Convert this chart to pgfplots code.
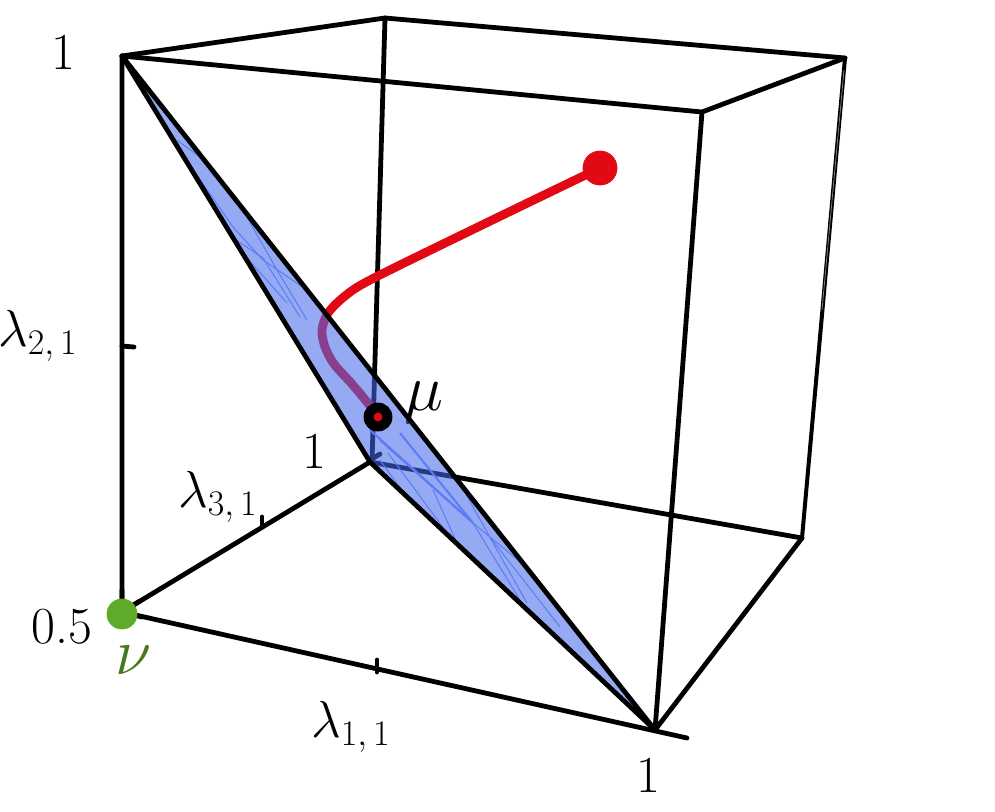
\RequirePackage{fix-cm}
\documentclass[border=0pt]{standalone}
\usepackage{pgfplots}
\pgfplotsset{compat=1.18}
\definecolor{facet}{RGB}{70,105,235}
\definecolor{gridline}{RGB}{90,125,245}
\definecolor{curve}{RGB}{225,10,20}
\definecolor{nugreen}{RGB}{95,170,40}
\definecolor{nutext}{RGB}{70,120,30}
\DeclareMathSizes{26}{26}{18}{13}
\DeclareMathSizes{33}{33}{22}{16}
\newcommand{\lab}{\fontsize{26}{28}\selectfont}
\newcommand{\biglab}{\fontsize{33}{36}\selectfont}
\begin{document}
\begin{tikzpicture}[x=1pt,y=1pt]
\useasboundingbox (0,0) rectangle (497.5pt,405.5pt);
% axis in reference pixels, 1 px = 0.5 pt
\begin{axis}[hide axis,scale only axis,width=497.5pt,height=405.5pt,
  xmin=0,xmax=995,ymin=0,ymax=811,y dir=reverse,clip=false,
  cube/.style={black,line width=2.4pt,line join=round,line cap=round,mark=none,forget plot},
  thin mesh/.style={gridline,line width=0.5pt,mark=none,forget plot},
  fan mesh/.style={gridline,line width=1pt,mark=none,forget plot}]
% back edges
\addplot[cube] coordinates {(122,56) (385,18) (845,58)};
\addplot[cube] coordinates {(385,18) (372,462)};
\addplot[cube] coordinates {(122,612) (370,462) (802,538)};
\addplot[cube] coordinates {(370,460) (380,454)};
% curve, point and mu behind the facet
\addplot[curve,line width=4.4pt,line cap=round,smooth,mark=none] coordinates {(600,168) (480,226) (372,279) (345,296) (328,313) (322,330) (325,347) (334,364) (352,384) (372,408)};
\addplot[only marks,mark=*,mark size=7pt,mark options={draw=black,fill=black}] coordinates {(378,417)};
\node[font=\biglab] at (axis cs:424,403) {$\mu$};
% facet
\addplot[fill=facet,fill opacity=0.57,draw=none,mark=none] coordinates {(122,56) (655,730) (370,462)} --cycle;
% mesh lines inside the facet
\addplot[thin mesh] coordinates {(177,140) (200,157)};
\addplot[thin mesh] coordinates {(190,165) (233,227) (263,260) (307,290)};
\addplot[thin mesh] coordinates {(243,210) (277,270) (307,320)};
\addplot[thin mesh] coordinates {(233,238) (263,258) (300,317)};
\addplot[thin mesh] coordinates {(247,258) (287,303)};
\addplot[fan mesh] coordinates {(370,430) (473,523)};
\addplot[fan mesh] coordinates {(400,433) (473,523)};
\addplot[fan mesh] coordinates {(380,440) (470,520)};
\addplot[thin mesh] coordinates {(473,523) (520,600)};
\addplot[thin mesh] coordinates {(473,523) (530,570)};
\addplot[thin mesh] coordinates {(388,453) (450,537)};
\addplot[thin mesh] coordinates {(433,490) (457,543)};
\addplot[thin mesh] coordinates {(457,478) (497,550) (527,603)};
\addplot[thin mesh] coordinates {(490,537) (560,627)};
\addplot[thin mesh] coordinates {(380,460) (403,492) (460,547)};
% facet outline and front edges
\addplot[cube] coordinates {(122,56) (655,730)};
\addplot[cube] coordinates {(122,56) (370,462) (655,730)};
\addplot[cube] coordinates {(122,56) (122,612) (687,738)};
\addplot[cube] coordinates {(122,56) (702,112) (845,58)};
\addplot[cube] coordinates {(702,112) (655,730) (802,538)};
\addplot[black,line width=2pt,mark=none,forget plot] coordinates {(845,58) (802,538)};
\addplot[gray,line width=0.4pt,mark=none,forget plot] coordinates {(844,70) (822,310)};
% ticks
\addplot[cube] coordinates {(122,346) (134,347)};
\addplot[cube] coordinates {(377,660) (377,672)};
\addplot[cube] coordinates {(262,517) (262,526)};
% disc over the facet, all but its upper right part
\addplot[fill=black,draw=none,mark=none] coordinates {(378,417) (376,403) (371,405) (367,408) (365,412) (364,417) (365,422) (367,426) (371,430) (378,431) (383,430) (388,427) (391,423) (392,419)} --cycle;
\addplot[only marks,mark=*,mark size=2pt,mark options={draw=curve,fill=curve}] coordinates {(378,417)};
\addplot[only marks,mark=*,mark size=8.5pt,mark options={draw=curve,fill=curve}] coordinates {(600,168)};
\addplot[only marks,mark=*,mark size=7.5pt,mark options={draw=nugreen,fill=nugreen}] coordinates {(122,614)};
\addplot[cube] coordinates {(122,590) (122,612) (140,601)};
\addplot[cube] coordinates {(122,612) (142,617)};
% labels
\node[font=\lab] at (axis cs:63,52) {1};
\node[font=\lab] at (axis cs:38,336) {$\lambda_{2,\mkern3mu 1}$};
\node[font=\lab] at (axis cs:218,497) {$\lambda_{3,\mkern3mu 1}$};
\node[font=\lab] at (axis cs:314,451) {1};
\node[font=\lab] at (axis cs:62,627) {0.5};
\node[font=\biglab,text=nutext] at (axis cs:134,660) {$\nu$};
\node[font=\lab] at (axis cs:351,727) {$\lambda_{1,\mkern3mu 1}$};
\node[font=\lab] at (axis cs:648,775) {1};
\end{axis}
\end{tikzpicture}
\end{document}
